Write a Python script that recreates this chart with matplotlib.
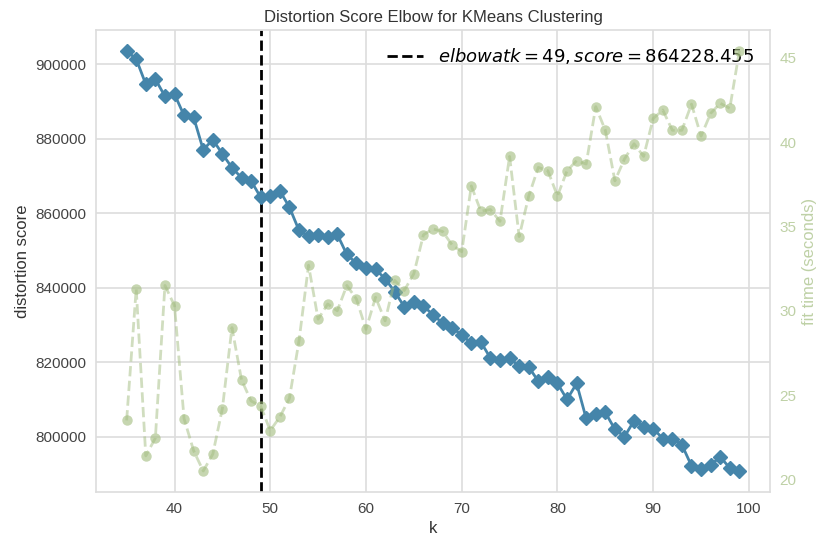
import matplotlib
matplotlib.use("Agg")
import matplotlib.pyplot as plt

k_values = list(range(35, 100))
distortion = [
    903500, 901350, 894600, 895950, 891350, 891900, 886200, 885700, 877000, 879700,
    875900, 872200, 869500, 868650, 864228, 864600, 866000, 861600, 855400, 853800,
    854000, 853500, 854300, 848900, 846500, 845400, 844900, 842400, 838900, 834900,
    836200, 835100, 832700, 830500, 829200, 827300, 825100, 825400, 821100, 820500,
    821100, 818900, 818700, 814900, 816000, 814300, 810000, 814300, 804900, 806000,
    806500, 802000, 800000, 804300, 802700, 802200, 799500, 799500, 797800, 792200,
    791400, 792400, 794600, 791600, 790800,
]
fit_time = [
    23.5, 31.3, 21.4, 22.45, 31.5, 30.3, 23.6, 21.7, 20.5, 21.5,
    24.2, 29.0, 25.9, 24.65, 24.35, 22.9, 23.7, 24.8, 28.2, 32.7,
    29.5, 30.4, 30.0, 31.5, 30.7, 28.9, 30.8, 29.4, 31.8, 31.2,
    32.2, 34.5, 34.85, 34.7, 33.9, 33.5, 37.4, 35.9, 36.0, 35.3,
    39.15, 34.4, 36.8, 38.5, 38.3, 36.8, 38.3, 38.9, 38.7, 42.1,
    40.7, 37.7, 39.0, 39.9, 39.15, 41.4, 41.9, 40.7, 40.7, 42.25,
    40.35, 41.7, 42.3, 42.0, 45.4,
]
elbow_k = 49
elbow_score = 864228.455
title = "Distortion Score Elbow for KMeans Clustering"

plt.rcParams['font.family'] = ['Liberation Sans', 'DejaVu Sans']
plt.rcParams['mathtext.fontset'] = 'dejavusans'

BLUE = "#4585aa"
GREEN = "#a3bd80"

fig = plt.figure(figsize=(8.18, 5.35), dpi=100)
ax = fig.add_axes([96/818, 1-492/535, (770-96)/818, (492-30)/535])
ax.set_facecolor("white")
for s in ax.spines.values():
    s.set_color("#dddddd")
    s.set_linewidth(1.2)
ax.grid(True, color="#dddddd", linewidth=1.2)
ax.set_axisbelow(True)

ax.plot(k_values, distortion, marker="D", color=BLUE, linewidth=2, markersize=7, zorder=3)
ax.axvline(elbow_k, color="k", linestyle="--", linewidth=2,
           label=r"$elbow at k=%d, score=%0.3f$" % (elbow_k, elbow_score))

ax2 = ax.twinx()
ax2.plot(k_values, fit_time, linestyle="--", color=GREEN, alpha=0.5, linewidth=2)
ax2.plot(k_values, fit_time, linestyle="none", marker="o", color=GREEN, alpha=0.62,
         markersize=7.5, markeredgewidth=0)
ax2.grid(False)
for s in ax2.spines.values():
    s.set_visible(False)

ax.set_title(title, fontsize=12, color="#333333")
ax.set_xlabel("k", fontsize=12, color="#333333")
ax.set_ylabel("distortion score", fontsize=12, color="#333333")
ax2.set_ylabel("fit time (seconds)", fontsize=12, color=GREEN, alpha=0.7)
ax.tick_params(axis="both", labelsize=11, colors="#444444", length=0, pad=7)
ax2.tick_params(axis="y", labelsize=11, colors=GREEN, length=0, pad=7)
ax.set_xticks([40, 50, 60, 70, 80, 90, 100])
ax2.set_yticks([20, 25, 30, 35, 40, 45])
for t in ax2.get_yticklabels():
    t.set_alpha(0.7)

ax.legend(loc="best", frameon=False, fontsize=13)

fig.savefig("out.png", dpi=100)
